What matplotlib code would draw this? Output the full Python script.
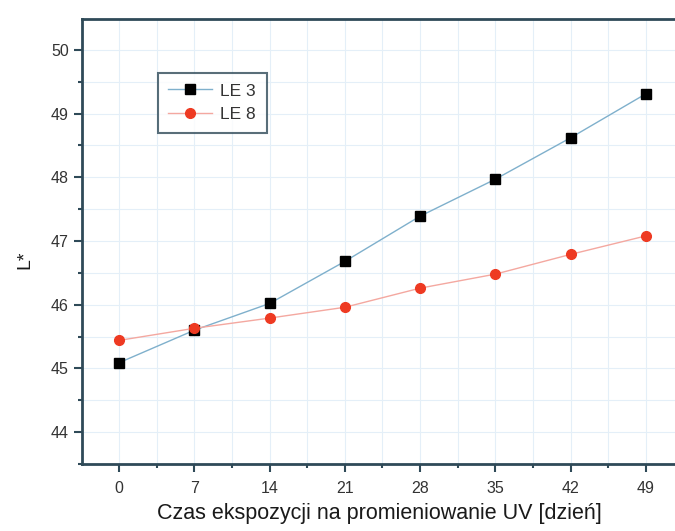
import matplotlib
matplotlib.use("Agg")
import matplotlib.pyplot as plt
from matplotlib.ticker import MultipleLocator

plt.rcParams['font.family'] = ['Liberation Sans', 'DejaVu Sans']

days = [0, 7, 14, 21, 28, 35, 42, 49]
le3 = [45.09, 45.60, 46.02, 46.68, 47.39, 47.97, 48.62, 49.31]
le8 = [45.44, 45.63, 45.79, 45.96, 46.26, 46.48, 46.79, 47.08]
series_names = ["LE 3", "LE 8"]
x_label = "Czas ekspozycji na promieniowanie UV [dzień]"
y_label = "L*"

W, H = 675, 531
fig = plt.figure(figsize=(W / 100, H / 100), dpi=100)
left, right, top, bottom = 82, 690, 19, 464
ax = fig.add_axes([left / W, 1 - bottom / H, (right - left) / W, (bottom - top) / H])

spine_c = '#2f4a58'
ax.plot(days, le3, color='#7fb0cc', lw=1.0, marker='s', ms=6.5, mfc='black', mec='black', label=series_names[0], zorder=3)
ax.plot(days, le8, color='#f4a8a0', lw=1.0, marker='o', ms=7, mfc='#ee3a22', mec='#ee3a22', label=series_names[1], zorder=3)

px_per_day = 75 / 7
ax.set_xlim(0 - (119 - left) / px_per_day, 49 + (right - 646) / px_per_day)
px_per_unit = 64
ax.set_ylim(44 - (bottom - 432) / px_per_unit, 50 + (50 - top) / px_per_unit)

ax.xaxis.set_minor_locator(MultipleLocator(3.5))
ax.yaxis.set_minor_locator(MultipleLocator(0.5))
ax.set_xticks(days)
ax.set_yticks([44, 45, 46, 47, 48, 49, 50])

ax.grid(True, which='both', color='#e4eff8', lw=0.8, zorder=0)
ax.set_axisbelow(True)

for s in ['left', 'bottom', 'top']:
    ax.spines[s].set_color(spine_c)
    ax.spines[s].set_linewidth(2)
ax.spines['right'].set_visible(False)

ax.tick_params(which='major', direction='out', length=6, width=1.5, color=spine_c, labelsize=11.5, labelcolor='#333333')
ax.tick_params(which='minor', direction='out', length=3, width=1.5, color=spine_c)
ax.tick_params(axis='x', pad=6)

fig.text(379 / W, 1 - 514 / H, x_label, ha='center', va='center', fontsize=15.5, color='#1a1a1a')
fig.text(25 / W, 1 - 260 / H, y_label, ha='center', va='center', rotation=90, fontsize=14, color='#1a1a1a')

leg = ax.legend(loc='upper left', bbox_to_anchor=(158 / W, 1 - 73 / H), bbox_transform=fig.transFigure,
                fancybox=False, frameon=True, fontsize=12.5, handlelength=2.5, handletextpad=0.5,
                borderpad=0.6, labelspacing=0.5, borderaxespad=0)
leg.get_frame().set_edgecolor(spine_c)
leg.get_frame().set_linewidth(1.5)
for t in leg.get_texts():
    t.set_color('#333333')

fig.savefig('out.png', dpi=100)
